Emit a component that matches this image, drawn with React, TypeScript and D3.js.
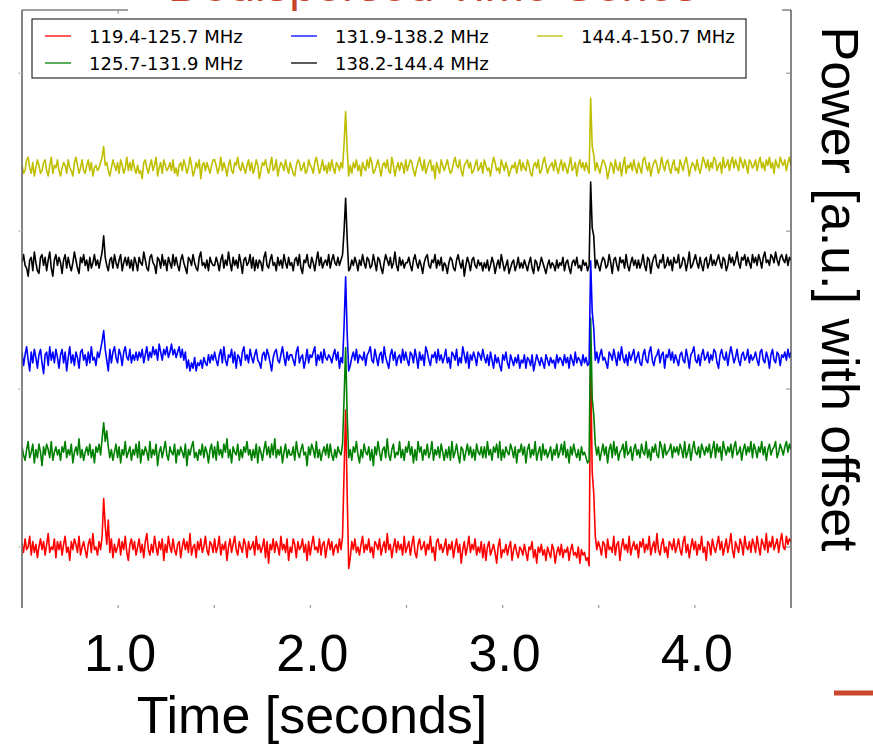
import React from 'react';
import * as d3 from 'd3';

// ---------- data ----------
const T_START = 0.5;
const T_END = 4.5;
const VALUE_STEP = 0.085; // each stored integer = 0.085 a.u.

const SERIES_LABELS = ['119.4-125.7 MHz', '125.7-131.9 MHz', '131.9-138.2 MHz', '138.2-144.4 MHz', '144.4-150.7 MHz'];
const SERIES_COLORS = ['#ff0000', '#008000', '#0000ff', '#000000', '#bfbf00'];
const SERIES_OFFSETS = [0, 3, 6, 9, 12];

const RED_119 = [
  1,-2,3,-1,0, 4,-3,2,-2,1, -4,0,3,-1,2, -3,1,5,-2,0, -1,3,-4,2,-1,
  2,-3,1,4,-2, 0,-5,2,-1,3, 1,-2,4,-3,0, 2,-1,-4,1,3, -2,5,-1,0,-3,
  2,-1,4,18,8, 1,10,-2,3,-4, 1,-2,0,3,-3, 2,-1,4,-2,-5, 1,3,-1,2,-3,
  0,3,-2,1,-4, 2,5,-1,-3,1, -2,4,0,-3,2, -1,3,-5,1,-2, 4,0,-2,3,-1,
  -3,1,2,-4,0, 3,-1,2,-2,5, -3,0,1,-4,2, -1,3,-2,0,4, -1,-3,2,1,-2,
  3,-2,0,4,-3, 1,-1,2,-5,0, 3,-2,1,4,-1, -3,2,0,-2,3, 1,-4,2,-1,0,
  2,-3,4,-1,1, -2,0,3,-4,2, -6,1,-1,3,-2, 2,0,-3,4,-1, 1,-2,3,-5,0,
  -2,3,1,-4,2, -1,0,3,-2,1, -5,2,-3,1,4, -1,0,-2,3,-3, 1,2,-4,0,3,
  -1,2,-3,0,1, -2,3,-1,4,28, 51,20,-8,-4,2, -1,3,-2,0,-3, 1,4,-2,1,-1,
  3,-2,0,-4,2, 1,-1,3,-3,0, 2,-2,5,-1,1, -4,0,3,-2,2, -1,1,-3,4,-2,
  0,2,-3,1,4, -2,-4,1,3,-1, 0,2,-3,1,-1, 4,-2,0,-5,2, 3,-1,1,-2,0,
  3,-3,1,-1,2, -4,0,3,-2,1, -6,-1,2,-3,0, 4,-2,1,-1,3, -3,0,-2,2,-4,
  1,-5,0,2,-3, -1,1,-2,-6,0, 3,-4,-1,-2,1, -3,0,2,-5,-1, 1,-2,-4,0,-1,
  -3,1,-2,-5,0, -1,2,-4,-1,-6, 0,-2,1,-3,-1, -5,0,-2,-4,1, -1,-6,-2,0,-3,
  1,-4,-1,-2,0, -5,-1,1,-3,-2, -4,0,-6,-1,-3, -2,-5,-4,-7,69, 28,20,4,-1,2,
  0,-3,2,1,-4, 3,-1,0,-2,4, -3,1,2,-5,0, 3,-1,1,-2,4, -3,0,2,-1,1,
  -4,2,0,3,-2, 1,-1,4,-3,0, 2,-2,5,-1,-3, 1,3,-2,0,-4, 2,1,-1,3,-2,
  0,3,-1,-3,2, 4,-2,1,-4,0, 3,-1,2,-3,1, -1,4,-2,0,-5, 2,1,-3,3,0,
  -2,1,4,-1,2, -3,0,3,-2,1, 5,-1,-4,2,0, -2,3,1,-3,4, 0,-1,2,-2,3,
  1,-2,4,0,-3, 3,1,-1,5,-2, 2,0,4,-1,1, 3,-2,2,5,0, -1,4,1,3,2,
];

const GREEN_125 = [
  2,-1,-3,1,4, -2,0,3,-4,1, -2,3,0,-5,2, -1,3,1,-2,4, -3,0,2,-1,1,
  -3,2,0,4,-2, 1,-1,3,-4,0, 2,-1,5,-2,1, -3,0,2,-1,3, -2,1,-4,2,0,
  3,-1,5,11,4, 8,2,-2,1,-3, 0,3,-2,2,-4, 1,-1,4,-2,0, 2,-3,1,-1,3,
  -2,4,-4,1,-1, 2,0,-3,4,-2, 1,-1,3,-5,0, 2,-2,1,4,-1, -3,2,0,-1,3,
  -4,1,-1,2,0, -2,3,-5,1,-1, 2,4,-2,0,-3, 1,-1,3,-2,2, 0,-4,1,3,-2,
  2,-3,4,-1,1, -2,3,0,5,-2, 1,-4,2,0,-1, 3,-3,1,-2,2, 0,4,-1,1,-3,
  1,-2,3,-4,2, 0,-3,1,4,-1, 2,-2,3,-1,5, -2,1,-1,2,-4, 0,3,-2,1,-1,
  -1,2,-3,4,0, -2,1,3,-1,0, -5,2,-1,3,1, -2,4,-2,1,-3, 0,2,-1,3,-2,
  3,-1,-3,1,-2, 2,0,-1,3,20, 39,14,-2,1,-3, 2,0,4,-1,-4, 1,-2,3,0,-1,
  2,-3,1,-5,2, -1,4,0,-3,1, 2,-2,5,-1,-3, 1,3,-2,0,-1, 4,-2,1,-3,2,
  0,4,-1,2,-4, 1,-3,4,0,2, -3,1,-1,3,-2, 0,4,-3,1,-1, 2,-2,3,0,-3,
  1,-2,2,-3,4, -2,0,3,-1,-4, 2,1,-3,0,3, -1,2,-2,1,-3, 3,0,-1,2,-2,
  2,-2,4,-1,1, -3,2,0,3,-2, 4,-3,1,-2,2, 0,-1,3,1,-2, 2,-4,1,0,3,
  -1,2,-4,1,3, -2,1,-1,4,-3, 0,2,-3,3,-1, 1,-2,0,2,-3, 1,-1,3,-2,0,
  3,-1,4,-2,1, -4,2,-1,3,0, -2,1,-3,2,-1, 0,-2,-4,-3,50, 20,14,3,-1,2,
  -3,0,3,-1,2, -4,1,3,-2,4, -1,2,-3,0,1, 3,-2,4,-1,0, 2,-3,1,3,-1,
  1,-2,3,0,-1, 4,-2,1,-3,2, 0,3,-1,-2,4, 2,-2,3,-1,0, 1,3,-2,2,0,
  2,-1,3,1,-2, 4,-2,0,3,-3, 1,4,0,-1,2, -2,3,1,-1,2, 0,3,-2,1,4,
  -2,3,0,2,-3, 4,1,-1,2,0, 3,-2,2,4,-1, 0,2,-3,1,3, -1,2,0,4,-2,
  3,1,-2,2,0, 4,-1,2,-3,1, 3,-1,1,2,4, -2,0,3,1,-1, 2,4,0,3,1,
];

const BLUE_131 = [
  2,-3,1,4,-1, -5,2,-2,3,0, -4,1,3,-2,-6, 1,2,-3,4,-1, 2,-2,3,0,-4,
  1,3,-2,2,-5, 0,4,-2,1,-3, 2,0,-4,2,3, -1,1,-3,2,-2, 4,-1,0,-3,2,
  0,3,6,10,3, -1,-5,3,-2,2, 4,0,-2,3,1, -3,2,4,0,-1, 3,-2,1,-1,2,
  -1,2,0,3,-2, 1,4,-1,2,0, 4,1,3,-1,5, 2,-1,3,1,4, 0,2,5,1,3,
  0,2,4,0,3, -1,2,-4,-1,-5, -2,-4,0,-5,-2, -3,-1,-4,0,-2, -3,1,-2,1,-1,
  2,-1,-3,1,3, -2,4,-1,-3,1, 0,3,-2,2,-4, 1,0,-3,2,4, -1,1,-2,3,0,
  -2,1,3,-1,-2, -4,1,2,-1,3, 1,-2,-5,0,2, 3,-1,-2,1,4, 0,-3,2,-1,1,
  1,-1,-3,2,4, -2,0,1,-4,-1, 3,-2,1,0,2, 4,-3,1,-1,2, -2,3,0,-1,1,
  0,-2,1,3,-1, 2,-4,0,-2,12, 30,9,-5,-3,0, 2,-1,3,-2,1, 0,-1,2,-3,1,
  2,4,-1,-2,3, 0,-3,1,2,-2, 4,0,-2,-4,1, 3,-1,2,-3,0, 1,-2,3,-1,2,
  -1,-3,2,1,-2, 3,0,-4,2,-1, 1,-3,4,2,-1, -3,1,0,2,-2, 3,-1,1,-2,0,
  3,-2,0,-4,2, 1,-1,3,-3,0, -2,4,1,-2,2, -4,1,-1,2,0, -3,2,1,-1,3,
  0,-2,1,-3,2, -1,-4,1,-2,0, -3,-5,1,-1,2, -2,-4,1,-1,-3, 0,-2,1,-4,-1,
  -2,1,-4,0,-1, -3,1,-5,-2,1, -1,-3,0,-2,-4, 1,-1,-3,0,-2, -1,-4,1,-2,0,
  -1,-3,1,-2,0, -4,1,-1,-3,2, -2,0,-1,-3,1, -2,0,-3,-2,36, 17,11,-1,2,-2,
  1,3,-1,0,-2, -4,2,1,-1,3, 0,-3,2,-1,4, 0,-2,1,-3,2, -1,1,3,-2,0,
  2,-2,-3,1,3, -1,-2,2,4,-1, -3,0,1,3,-2, 1,2,-4,1,0, 3,-1,2,-2,1,
  -1,-3,1,2,-1, -2,3,0,-4,1, 2,4,-1,-2,1, -3,1,3,-1,0, 2,-2,1,-1,3,
  2,-2,-4,1,3, 0,-1,2,-3,1, 4,1,-2,0,3, -1,-3,1,2,-1, 0,3,-2,1,-1,
  0,2,-1,-3,2, 3,-1,-2,2,0, -4,1,3,-1,-2, 2,1,-3,1,0, 2,-1,3,0,2,
];

const BLACK_138 = [
  0,3,-1,-2,-5, 1,2,-3,4,0, -3,-4,2,3,-1, 2,-3,1,4,-2, -5,1,3,-1,2,
  0,-4,1,3,-2, 2,-1,-3,0,4, 1,-2,-4,2,0, 3,-1,1,-3,2, -2,0,3,-1,1,
  -2,1,4,10,2, -1,-3,1,2,-2, 3,0,-2,1,3, -3,0,2,-1,2, -2,1,-3,2,0,
  -3,2,0,-1,4, 1,-2,-3,2,3, 0,-1,-4,2,1, -2,3,-1,1,-3, 2,0,-2,3,-1,
  2,-1,-3,1,3, 0,-2,-4,2,1, -1,3,0,-2,-3, 2,4,-1,0,-2, 1,-3,2,0,-1,
  -1,2,0,-3,1, 3,-2,1,-1,4, 0,-3,2,-1,1, -2,3,0,-4,1, 2,-1,0,3,-2,
  2,-3,1,-2,1, 0,-3,2,4,-1, -2,1,3,-1,0, -3,2,-1,1,-2, 3,0,-2,2,-1,
  0,-3,1,2,-1, 3,-2,-4,1,0, 3,-1,-2,2,0, -3,1,4,-1,2, -2,0,1,-1,3,
  -2,1,3,0,-1, 2,-1,1,3,12, 24,9,-3,-2,1, -1,2,0,-3,1, -1,3,0,-2,2,
  1,-2,-1,3,0, -3,2,1,-2,-4, 0,3,1,-1,2, -2,0,4,-1,-3, 2,-1,1,-2,0,
  0,2,-1,-3,1, 3,0,-2,1,-1, -4,0,2,3,-1, -2,1,0,3,-2, 1,-1,2,-3,0,
  -1,-4,0,2,1, -2,-3,1,3,0, -2,1,-5,-1,2, 0,-3,1,2,-1, -2,1,-1,0,-3,
  0,-2,1,-3,-1, 2,0,-4,-1,1, -2,3,0,-3,-1, 1,-4,-2,0,1, -3,-1,2,-2,0,
  -2,1,-1,-3,0, 2,-2,-4,1,0, -3,-1,2,0,-2, -4,-1,1,-2,0, -1,-3,1,-2,0,
  -1,2,-3,0,1, -2,-4,0,1,-1, 2,-2,-1,-3,1, -1,0,-3,-1,30, 13,10,-2,1,-1,
  -3,0,2,1,-2, -1,3,0,-4,1, 2,-1,-3,2,0, 1,-2,3,-1,-3, 0,2,-1,1,-2,
  1,-2,0,3,-1, -3,2,1,-4,0, 2,3,-1,-2,1, 0,3,-2,-1,2, -1,1,-3,2,0,
  0,3,-2,-1,2, 1,-3,0,4,-2, -1,1,3,0,-2, 2,-1,-3,1,2, -2,0,3,-1,1,
  -1,1,3,0,-2, 2,1,-3,-1,3, 0,2,-1,1,4, 0,-2,2,1,3, -1,2,0,-2,3,
  0,2,-1,3,1, -2,2,4,0,1, -1,3,2,0,4, 1,-1,2,3,1, 0,3,-1,2,1,
];

const YELLOW_144 = [
  1,-2,-1,3,4, 0,-2,2,-3,0, 3,1,-2,-1,2, 3,-1,-3,1,4, -2,1,0,3,-1,
  -3,0,2,1,-2, 3,0,-1,-3,2, 4,1,-2,0,3, -1,-2,1,3,-1, 2,-3,0,1,-1,
  0,2,4,8,1, 2,-1,-3,0,3, 1,-1,2,-2,3, 1,-2,0,4,-1, 2,-1,3,0,-2,
  1,-2,-1,-4,2, 3,0,-2,1,3, -1,1,4,-3,0, 2,-2,3,1,-1, 0,2,-1,3,-2,
  0,-3,1,2,-1, 3,1,-2,0,4, 1,-3,-1,2,0, 3,-4,1,2,-1, 2,0,-2,1,3,
  3,1,-2,0,4, -1,2,0,-3,1, 3,-1,-2,2,1, 4,0,-1,2,0, -2,1,3,-1,2,
  -2,0,3,1,-4, -1,2,1,3,0, -2,1,4,-1,0, 3,-3,0,2,1, -1,3,0,-2,2,
  0,-2,-3,1,3, 2,-1,0,2,-2, -1,3,1,0,-2, 2,4,1,-2,0, 3,-1,1,-2,2,
  -1,3,0,-2,2, 1,-1,2,0,9, 21,7,-3,1,-2, 2,0,3,-1,1, -3,2,0,-1,3,
  0,4,2,-2,-1, 1,3,0,-3,1, 2,0,3,-1,-2, 4,1,-3,0,2, -1,2,1,-2,3,
  -1,1,3,2,-1, -3,0,2,4,1, -1,3,-2,0,2, 3,-1,1,-4,2, 0,-2,3,1,-1,
  1,3,0,-2,-1, 2,4,1,0,3, -1,-3,1,2,3, 0,2,-2,-1,1, 3,-1,0,2,-2,
  3,1,-1,0,-3, 1,4,2,-1,0, -2,3,1,-1,2, 0,-3,-1,1,0, 2,-2,1,3,-1,
  2,0,-1,3,1, -2,-3,1,2,0, 3,-2,-1,2,4, 1,-2,0,1,2, -1,3,0,-2,1,
  3,-1,2,0,-2, 1,4,-1,0,2, -3,1,3,0,2, -1,2,0,-2,26, 8,5,-1,2,0,
  -2,1,3,2,0, -4,-1,2,1,-2, 3,0,-1,2,-3, 1,4,-2,1,0, 2,-1,3,0,-2,
  2,0,-2,3,4, 1,-1,2,-3,0, 2,3,1,-2,0, 4,1,-1,2,3, 0,-2,1,3,-1,
  0,-2,3,1,-1, 2,4,1,-3,0, 2,1,-1,3,0, -2,1,4,2,0, 3,-1,2,0,4,
  3,-1,1,2,-2, 4,0,1,3,-1, 2,4,0,3,1, -1,4,2,0,3, 1,-2,3,2,0,
  1,3,-1,2,4, 0,2,-1,3,1, 4,0,2,-2,3, 1,0,4,2,1, 3,-1,2,4,1,
];

const SERIES_VALUES = [RED_119, GREEN_125, BLUE_131, BLACK_138, YELLOW_144];

const X_TICKS = [1.0, 1.5, 2.0, 2.5, 3.0, 3.5, 4.0];
const X_LABELS = [1.0, 2.0, 3.0, 4.0];
const Y_TICKS = [0, 5, 10, 15];

const TITLE = 'Dedispersed Time Series';
const X_TITLE = 'Time [seconds]';
const Y_TITLE = 'Power [a.u.] with offset';

// ---------- chart ----------
export default function App() {
  const W = 873;
  const H = 744;
  const left = 22, right = 791, top = 10, bottom = 607;
  const x = d3.scaleLinear().domain([T_START, T_END]).range([left, right]);
  const y = d3.scaleLinear().domain([-1.9, 17]).range([bottom, top]);

  const paths = SERIES_VALUES.map((vals, s) => {
    const n = vals.length;
    const gen = d3
      .line<number>()
      .x((_, i) => x(T_START + (i * (T_END - T_START)) / (n - 1)))
      .y((v) => y(SERIES_OFFSETS[s] + v * VALUE_STEP));
    return gen(vals) || '';
  });

  const bigFont = '"Liberation Sans", Arial, Helvetica, sans-serif';
  const legendFont = '"DejaVu Sans", Verdana, sans-serif';

  const legendCols = [45, 291, 537];
  const legendRows = [36, 63];

  return (
    <svg width={W} height={H} style={{ position: 'absolute', left: 0, top: 0, background: '#fff' }}>
      <defs>
        <clipPath id="plotClip">
          <rect x={left} y={top} width={right - left} height={bottom - top} />
        </clipPath>
      </defs>
      <rect x={0} y={0} width={W} height={H} fill="#fff" />

      {/* traces */}
      <g clipPath="url(#plotClip)">
        {paths.map((d, i) => (
          <path key={i} d={d} fill="none" stroke={SERIES_COLORS[i]} strokeWidth={1.6} strokeLinejoin="round" />
        ))}
      </g>

      {/* spines */}
      <line x1={left} x2={left} y1={top} y2={bottom + 1} stroke="#666" strokeWidth={1.6} />
      <line x1={right} x2={right} y1={top} y2={bottom + 1} stroke="#444" strokeWidth={1.3} />
      <line x1={left} x2={right} y1={top} y2={top} stroke="#444" strokeWidth={1.2} />

      {/* ticks */}
      {X_TICKS.map((t) => (
        <g key={'xt' + t}>
          <line x1={x(t)} x2={x(t)} y1={bottom + 1} y2={bottom - 2} stroke="#999" strokeWidth={1.2} />
          <line x1={x(t)} x2={x(t)} y1={top} y2={top + 4} stroke="#888" strokeWidth={1} />
        </g>
      ))}
      {Y_TICKS.map((v) => (
        <g key={'yt' + v}>
          <line x1={left - 4} x2={left} y1={y(v)} y2={y(v)} stroke="#bbb" strokeWidth={1} />
          <line x1={right - 5} x2={right} y1={y(v)} y2={y(v)} stroke="#888" strokeWidth={1} />
        </g>
      ))}

      {/* title band (cropped off at the top of the slide) */}
      <rect x={128} y={0} width={654} height={14} fill="#fff" />
      <text x={168} y={0.8} fontFamily={bigFont} fontSize={48} fill="#c8442c" textLength={530} lengthAdjust="spacingAndGlyphs">
        {TITLE}
      </text>

      {/* legend */}
      <rect x={32} y={19} width={714} height={59} fill="#fff" stroke="#000" strokeWidth={1} />
      {SERIES_LABELS.map((lab, i) => {
        const col = Math.floor(i / 2);
        const row = i % 2;
        const lx = legendCols[col];
        const ly = legendRows[row];
        return (
          <g key={lab}>
            <line x1={lx} x2={lx + 26} y1={ly} y2={ly} stroke={SERIES_COLORS[i]} strokeWidth={1.3} />
            <text x={lx + 44} y={ly + 7} fontFamily={legendFont} fontSize={18} fill="#000">
              {lab}
            </text>
          </g>
        );
      })}

      {/* x tick labels */}
      {X_LABELS.map((t) => (
        <text key={'xl' + t} x={x(t) + 2} y={671} textAnchor="middle" fontFamily={bigFont} fontSize={52} fill="#000">
          {t.toFixed(1)}
        </text>
      ))}

      {/* axis titles */}
      <text x={312} y={733} textAnchor="middle" fontFamily={bigFont} fontSize={52} fill="#000">
        {X_TITLE}
      </text>
      <text transform="translate(822,289) rotate(90)" textAnchor="middle" fontFamily={bigFont} fontSize={52} fill="#000">
        {Y_TITLE}
      </text>

      {/* slide accent */}
      <line x1={834} x2={873} y1={693} y2={693} stroke="#c9482b" strokeWidth={5} />
    </svg>
  );
}
